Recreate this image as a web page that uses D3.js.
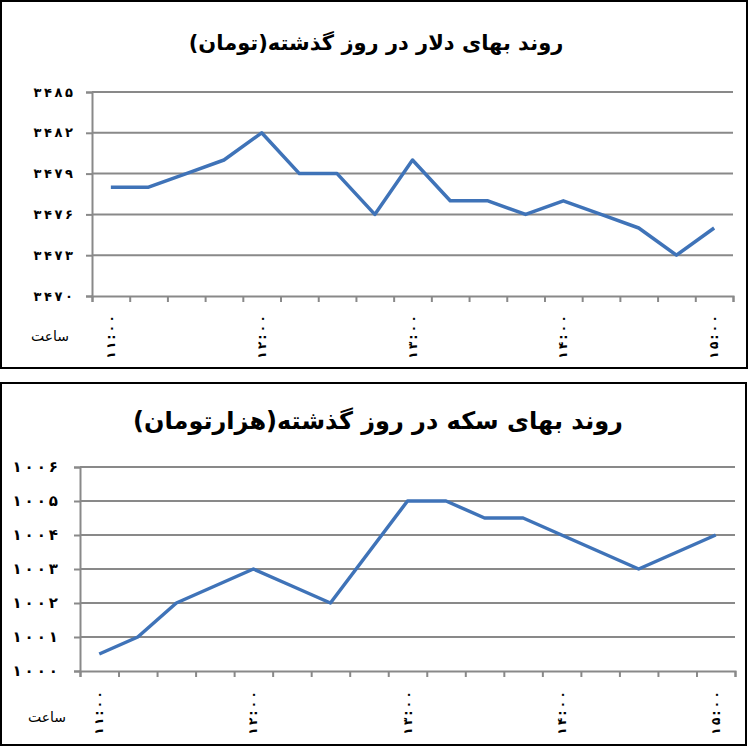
<!DOCTYPE html>
<html>
<head>
<meta charset="utf-8">
<script src="https://cdn.jsdelivr.net/npm/d3@7"></script>
<style>
  body { margin: 0; background: #fff; }
  svg { display: block; font-family: "DejaVu Sans", sans-serif; }
</style>
</head>
<body>
<svg id="canvas"></svg>
<script>
// times every quarter hour, only the full hours get a label
const times = ['11:00', '11:15', '11:30', '11:45', '12:00', '12:15', '12:30', '12:45',
  '13:00', '13:15', '13:30', '13:45', '14:00', '14:15', '14:30', '14:45', '15:00'];

// dollar price (toman)
const dollarValues = [3478, 3478, 3479, 3480, 3482, 3479, 3479, 3476, 3480,
  3477, 3477, 3476, 3477, 3476, 3475, 3473, 3475];
const dollarTicks = [3470, 3473, 3476, 3479, 3482, 3485];

// coin price (thousand toman)
const coinValues = [1000.5, 1001, 1002, 1002.5, 1003, 1002.5, 1002, 1003.5, 1005,
  1005, 1004.5, 1004.5, 1004, 1003.5, 1003, 1003.5, 1004];
const coinTicks = [1000, 1001, 1002, 1003, 1004, 1005, 1006];

const dollarTitle = 'روند بهای دلار در روز گذشته(تومان)';
const coinTitle = 'روند بهای سکه در روز گذشته(هزارتومان)';
const hourLabel = 'ساعت';

const width = 750;
const height = 749;
const gray = '#898989';
const blue = '#3f73b8';

const canvas = d3.select('#canvas').attr('width', width).attr('height', height);

// latin digits -> persian digits, thin space between chars (letter-spacing is ignored for arabic script)
const fa = (s) => String(s).replace(/[0-9]/g, (c) => '۰۱۲۳۴۵۶۷۸۹'[+c]).split('').join('\u2009');

const drawChart = (opt) => {
    const g = canvas.append('g');

    g.append('rect')
        .attr('x', opt.box[0]).attr('y', opt.box[1])
        .attr('width', opt.box[2]).attr('height', opt.box[3])
        .attr('fill', '#fff').attr('stroke', '#000').attr('stroke-width', 2);

    g.append('text')
        .attr('x', opt.titleX).attr('y', opt.titleY)
        .attr('text-anchor', 'middle')
        .attr('direction', 'rtl')
        .attr('font-size', opt.titleSize).attr('font-weight', 'bold')
        .text(opt.title);

    const x = d3.scaleLinear().domain([0, opt.cats.length]).range([opt.left, opt.right]);
    const y = d3.scaleLinear().domain(d3.extent(opt.ticks)).range([opt.bottom, opt.top]);

    // gridlines
    g.selectAll('.grid')
        .data(opt.ticks.slice(1))
        .enter()
        .append('line')
        .attr('x1', opt.left).attr('x2', opt.right)
        .attr('y1', (d) => y(d)).attr('y2', (d) => y(d))
        .attr('stroke', gray).attr('stroke-width', 2);

    // y axis
    const yAxis = g.append('g')
        .attr('transform', `translate(${opt.left},0)`)
        .call(d3.axisLeft(y).tickValues(opt.ticks).tickSize(6).tickFormat(fa));
    yAxis.select('.domain').attr('stroke', gray).attr('stroke-width', 2);
    yAxis.selectAll('.tick line').attr('stroke', gray).attr('stroke-width', 2);
    yAxis.selectAll('.tick text')
        .attr('x', opt.yLabelX - opt.left)
        .attr('font-size', opt.yLabelSize).attr('font-weight', 'bold')
        .attr('font-family', '"DejaVu Sans", sans-serif')
        .attr('fill', '#000');

    // x axis, ticks at category borders
    const xAxis = g.append('g')
        .attr('transform', `translate(0,${opt.bottom})`)
        .call(d3.axisBottom(x).tickValues(d3.range(opt.cats.length + 1)).tickSize(6).tickFormat(''));
    xAxis.select('.domain').attr('stroke', gray).attr('stroke-width', 2);
    xAxis.selectAll('.tick line').attr('stroke', gray).attr('stroke-width', 2);

    g.selectAll('.xlab')
        .data(opt.cats)
        .enter()
        .filter((d) => d.endsWith(':00'))
        .append('text')
        .attr('transform', (d) => `translate(${x(opt.cats.indexOf(d) + 0.5)},${opt.xLabelY}) rotate(-90)`)
        .attr('text-anchor', 'middle')
        .attr('dominant-baseline', 'central')
        .attr('font-size', 12)
        .attr('font-weight', 'bold')
        .text((d) => fa(d));

    g.append('text')
        .attr('x', opt.hourX).attr('y', opt.hourY)
        .attr('text-anchor', 'middle')
        .attr('font-size', 14)
        .text(hourLabel);

    const line = d3.line()
        .x((d, i) => x(i + 0.5))
        .y((d) => y(d));

    g.append('path')
        .datum(opt.values)
        .attr('d', line)
        .attr('fill', 'none')
        .attr('stroke', blue)
        .attr('stroke-width', 3.5)
        .attr('stroke-linejoin', 'round');
};

drawChart({
    box: [1, 1, 746, 367],
    title: dollarTitle, titleX: 376, titleY: 50, titleSize: 21,
    cats: times, values: dollarValues, ticks: dollarTicks,
    left: 92, right: 733, top: 92, bottom: 296,
    yLabelX: 73, yLabelSize: 13,
    xLabelY: 337, hourX: 50, hourY: 341
});

drawChart({
    box: [1, 383, 745, 362],
    title: coinTitle, titleX: 378, titleY: 429, titleSize: 24,
    cats: times, values: coinValues, ticks: coinTicks,
    left: 80, right: 735, top: 467, bottom: 671,
    yLabelX: 58, yLabelSize: 15,
    xLabelY: 713, hourX: 47, hourY: 722
});
</script>
</body>
</html>
